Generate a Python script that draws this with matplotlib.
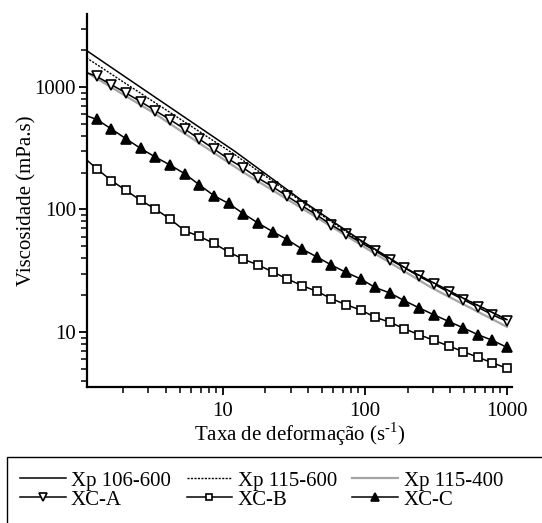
import matplotlib
matplotlib.use("Agg")
import matplotlib.pyplot as plt
from matplotlib.ticker import FixedLocator, FixedFormatter, NullFormatter
from matplotlib.patches import Rectangle

plt.rcParams['font.family'] = ['Liberation Serif', 'DejaVu Serif']
plt.rcParams['mathtext.fontset'] = 'custom'
plt.rcParams['mathtext.rm'] = 'Liberation Serif'

# ---- data ----
# shear rate (1/s); first value is at the left axis edge (line only, no marker)
shear = [1.1, 1.30, 1.65, 2.09, 2.65, 3.36, 4.26, 5.40, 6.85, 8.68, 11.0, 14.0, 17.7,
         22.5, 28.5, 36.1, 45.8, 58.1, 73.6, 93.4, 118, 150, 190, 241, 306, 388,
         492, 624, 791, 1000]
xc_a = [1315, 1220, 1044, 893, 759, 641, 541, 454, 376, 312, 258, 218, 181, 153, 128,
        107.5, 90.2, 75.1, 63.4, 53.9, 46, 38.9, 33.5, 28.4, 24.6, 21.2, 18.4, 15.9,
        13.8, 12.2]
xc_b = [255, 215, 172, 143, 118.7, 100.9, 83.6, 67.1, 60.3, 52.8, 45, 39.2, 35.3, 30.9,
        27.1, 23.9, 21.5, 18.7, 16.7, 15.1, 13.2, 12.0, 10.6, 9.5, 8.53, 7.69, 6.91,
        6.21, 5.59, 5.05]
xc_c = [583, 544, 454, 378, 315, 268, 231, 196, 159, 129.7, 112, 92.4, 77.6, 65.9, 56.7,
        47.6, 41.1, 35.2, 30.7, 27.1, 23.1, 20.8, 18.0, 15.7, 13.8, 12.2, 10.8, 9.5,
        8.53, 7.48]

xp_x = [1.1, 2, 5.43, 12.2, 36, 92, 200, 500, 1000]
xp_106_600 = [1990, 1240, 564, 298, 118.6, 56.7, 32.5, 18.7, 12.6]
xp_115_600 = [1735, 1100, 516, 280, 116, 55.5, 32.3, 18.7, 12.6]
xp2_x = [1.1, 3.2, 13.6, 40, 118, 296, 1000]
xp_115_400 = [1320, 625, 205, 95, 43.5, 22.9, 11.0]

x_major = [10, 100, 1000]
y_major = [10, 100, 1000]
x_major_labels = ['10', '100', '1000']
y_major_labels = ['10', '100', '1000']

W, H = 542, 523
fig = plt.figure(figsize=(W / 100, H / 100), dpi=100)
ax = fig.add_axes([87 / W, 1 - 387 / H, (512 - 87) / W, (387 - 14) / H])

FS = 15
lw = 1.1
h1, = ax.plot(xp_x, xp_106_600, color='black', lw=lw, zorder=4, label='Xp 106-600')
h2, = ax.plot(xp_x, xp_115_600, color='black', lw=1.0, ls=(0, (1.5, 1.0)), zorder=4,
              label='Xp 115-600')
h3, = ax.plot(xp2_x, xp_115_400, color='#a5a5a5', lw=1.6, zorder=2, label='Xp 115-400')

mk = dict(markevery=slice(1, None), mec='black', mew=1.2, lw=lw, color='black')
h4, = ax.plot(shear, xc_a, marker='v', ms=7.5, mfc='white', zorder=3, label='XC-A', **mk)
h5, = ax.plot(shear, xc_b, marker='s', ms=6.0, mfc='white', zorder=3, label='XC-B', **mk)
h6, = ax.plot(shear, xc_c, marker='^', ms=7.5, mfc='black', zorder=3, label='XC-C', **mk)

ax.set_xscale('log')
ax.set_yscale('log')
ax.set_xlim(1.11, 1085)
ax.set_ylim(3.55, 3950)

for sp in ['top', 'right']:
    ax.spines[sp].set_visible(False)
for sp in ['left', 'bottom']:
    ax.spines[sp].set_linewidth(1.6)

ax.xaxis.set_major_locator(FixedLocator(x_major))
ax.xaxis.set_major_formatter(FixedFormatter(x_major_labels))
ax.yaxis.set_major_locator(FixedLocator(y_major))
ax.yaxis.set_major_formatter(FixedFormatter(y_major_labels))
xminor = [m * d for d in (1, 10, 100) for m in range(2, 10)]
yminor = [m * d for d in (1, 10, 100, 1000) for m in range(2, 10)]
ax.xaxis.set_minor_locator(FixedLocator(xminor))
ax.yaxis.set_minor_locator(FixedLocator(yminor))
ax.xaxis.set_minor_formatter(NullFormatter())
ax.yaxis.set_minor_formatter(NullFormatter())
ax.tick_params(which='major', direction='out', length=6, width=1.3, labelsize=FS)
ax.tick_params(axis='y', which='major', pad=2)
ax.tick_params(axis='x', which='major', pad=4.5)
ax.tick_params(which='minor', direction='out', length=4, width=1.1)

ax.set_xlabel('Taxa de deformação (s$^{\\mathregular{\u2010}1}$)', fontsize=FS, labelpad=0)
ax.set_ylabel('Viscosidade (mPa.s)', fontsize=FS, labelpad=-1.5)

# legend box (extends beyond the figure edge as in the reference)
fig.patches.append(Rectangle((7 / W, -0.1), 1.2, 1 - 457 / H + 0.1, transform=fig.transFigure,
                             fill=False, edgecolor='black', lw=1.0))
handles = [h1, h4, h2, h5, h3, h6]
leg = fig.legend(handles=handles, labels=[h.get_label() for h in handles], ncol=3,
                 loc='upper left', bbox_to_anchor=(20 / W, 1 - 471 / H), frameon=False,
                 fontsize=FS, handlelength=2.2, handletextpad=0.25, columnspacing=0.75,
                 labelspacing=-0.02, borderpad=0, borderaxespad=0, markerscale=0.7)

fig.savefig('out.png', dpi=100)
